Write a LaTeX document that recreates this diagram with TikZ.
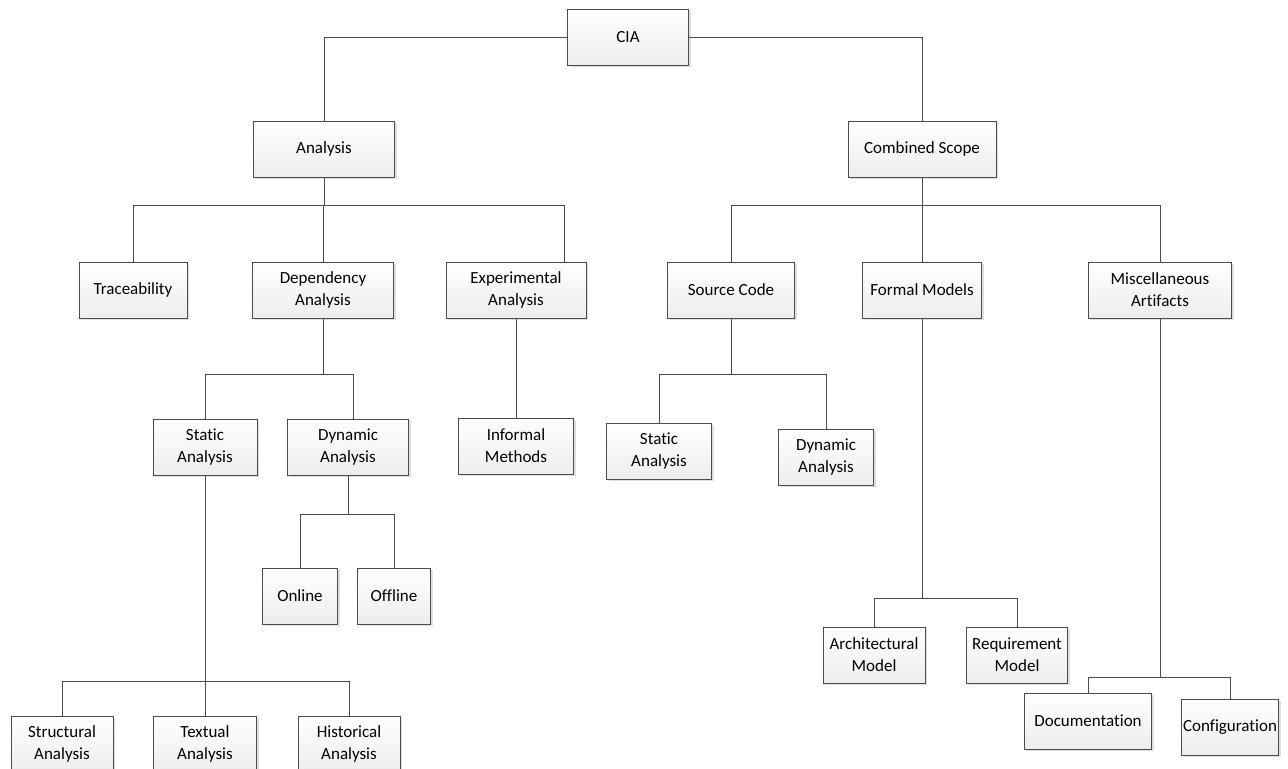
\documentclass[tikz,border=0pt]{standalone}
\usepackage{fontspec}
\setmainfont{Carlito}[Ligatures={NoCommon}]
\usetikzlibrary{shadows}

\tikzset{
    box/.style={draw=black!70, line width=0.45pt, top color=white, bottom color=black!7,
        drop shadow={shadow xshift=1pt, shadow yshift=-1pt, fill=black!25, opacity=0.5},
        align=center, inner sep=0pt, minimum height=28pt,
        font=\fontsize{8.5}{11}\selectfont},
    bw/.style={minimum width=#1*0.5pt},
    link/.style={draw=black!70, line width=0.45pt},
}

\begin{document}
\begin{tikzpicture}[x=0.5pt,y=-0.5pt]
        \useasboundingbox (0,0) rectangle (1288,769);

        % root and first level
        \node[box, bw=121] (cia)  at (628,37)  {CIA};
        \node[box, bw=141] (ana)  at (324,149) {Analysis};
        \node[box, bw=148] (comb) at (922,149) {Combined Scope};

        % analysis branch
        \node[box, bw=108] (trace) at (133,290) {Traceability};
        \node[box, bw=141] (dep)   at (323,290) {Dependency\\Analysis};
        \node[box, bw=140] (expe)  at (516,290) {Experimental\\Analysis};
        \node[box, bw=104] (stat)  at (205,447) {Static\\Analysis};
        \node[box, bw=121] (dyn)   at (348,447) {Dynamic\\Analysis};
        \node[box, bw=115] (info)  at (516,446) {Informal\\Methods};
        \node[box, bw=75]  (online)  at (300,596) {Online};
        \node[box, bw=73]  (offline) at (394,596) {Offline};
        \node[box, bw=102] (struc) at (62,744)  {Structural\\Analysis};
        \node[box, bw=103] (text)  at (205,744) {Textual\\Analysis};
        \node[box, bw=102] (hist)  at (349,744) {Historical\\Analysis};

        % combined scope branch
        \node[box, bw=127] (src)  at (731,290)  {Source Code};
        \node[box, bw=119] (form) at (922,290)  {Formal Models};
        \node[box, bw=143] (misc) at (1160,290) {Miscellaneous\\Artifacts};
        \node[box, bw=105] (srcstat) at (659,451) {Static\\Analysis};
        \node[box, bw=95]  (srcdyn)  at (826,457) {Dynamic\\Analysis};
        \node[box, bw=102] (arch) at (874,655)  {Architectural\\Model};
        \node[box, bw=101] (req)  at (1017,655) {Requirement\\Model};
        \node[box, bw=127] (doc)  at (1088,721) {Documentation};
        \node[box, bw=97]  (conf) at (1230,727) {Configuration};

        % bus points and off-centre joints
        \coordinate (anabus)  at (324,205);
        \coordinate (combus)  at (922,205);
        \coordinate (depbus)  at (323,374);
        \coordinate (dynbus)  at (348,514);
        \coordinate (statbus) at (205,681);
        \coordinate (srcbus)  at (731,374);
        \coordinate (formbus) at (922,598);
        \coordinate (miscbus) at (1160,677);
        \coordinate (expetop) at (564,262);
        \coordinate (dyntop)  at (353,419);

        % top connectors
        \draw[link] (cia.west) -| (ana.north);
        \draw[link] (cia.east) -| (comb.north);

        % analysis connectors
        \draw[link] (ana.south) -- (anabus);
        \foreach \n in {trace,dep} {
          \draw[link] (\n.north) |- (anabus);
        }
        \draw[link] (expetop) |- (anabus);
        \draw[link] (expe.south) -- (info.north);
        \draw[link] (dep.south) -- (depbus);
        \draw[link] (stat.north) |- (depbus);
        \draw[link] (dyntop) |- (depbus);
        \draw[link] (dyn.south) -- (dynbus);
        \foreach \n in {online,offline} {
          \draw[link] (\n.north) |- (dynbus);
        }
        \draw[link] (stat.south) -- (statbus);
        \foreach \n in {struc,text,hist} {
          \draw[link] (\n.north) |- (statbus);
        }

        % combined scope connectors
        \draw[link] (comb.south) -- (combus);
        \foreach \n in {src,form,misc} {
          \draw[link] (\n.north) |- (combus);
        }
        \draw[link] (src.south) -- (srcbus);
        \foreach \n in {srcstat,srcdyn} {
          \draw[link] (\n.north) |- (srcbus);
        }
        \draw[link] (form.south) -- (formbus);
        \foreach \n in {arch,req} {
          \draw[link] (\n.north) |- (formbus);
        }
        \draw[link] (misc.south) -- (miscbus);
        \foreach \n in {doc,conf} {
          \draw[link] (\n.north) |- (miscbus);
        }
    \end{tikzpicture}
\end{document}
